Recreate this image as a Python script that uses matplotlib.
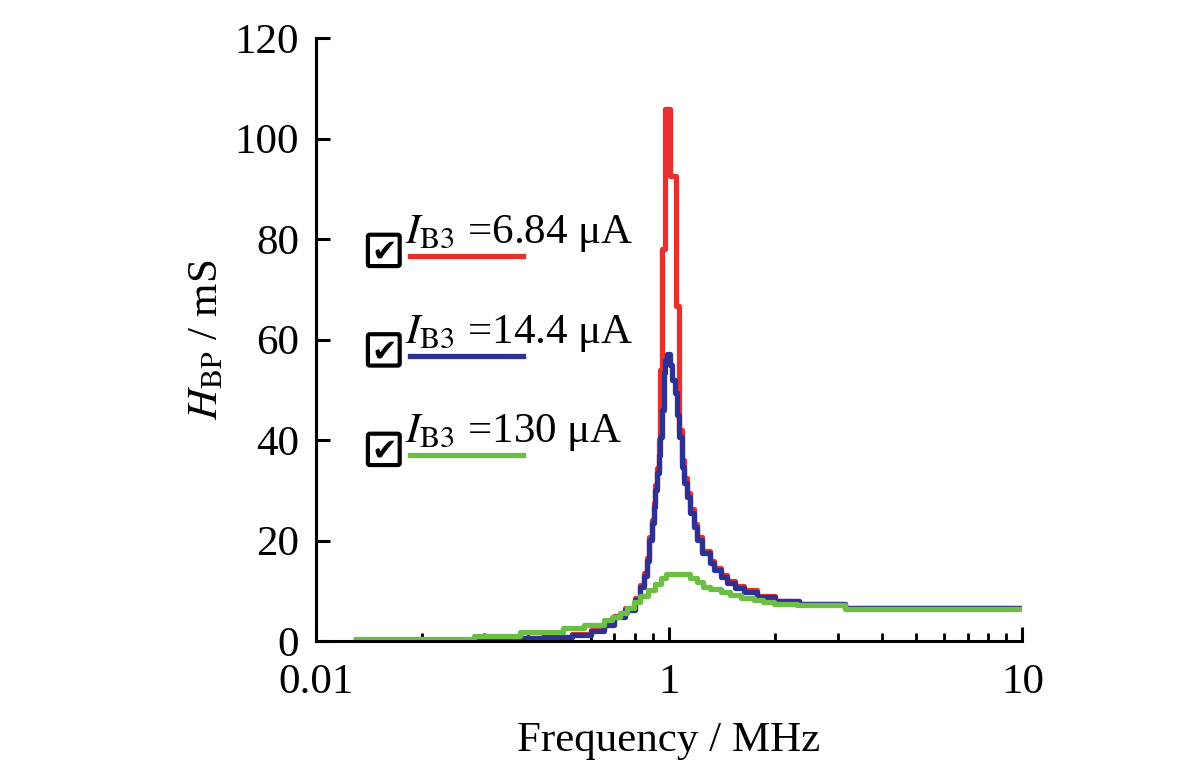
import matplotlib
matplotlib.use("Agg")
import matplotlib.pyplot as plt
from matplotlib.patches import FancyBboxPatch

plt.rcParams['font.family'] = ['Liberation Serif', 'DejaVu Sans']
plt.rcParams['mathtext.fontset'] = 'stix'

# frequency / MHz (step edges) and H_BP / mS
f_red = [0.13, 0.33, 0.44, 0.53, 0.60, 0.655, 0.70, 0.75, 0.80, 0.83, 0.85,
         0.867, 0.88, 0.895, 0.905, 0.913, 0.925, 0.937, 0.945, 0.955, 0.975,
         1.005, 1.046, 1.07, 1.088, 1.105, 1.124, 1.146, 1.177, 1.2, 1.239,
         1.306, 1.34, 1.40, 1.458, 1.54, 1.628, 1.773, 1.99, 2.34, 3.14, 10.0]
h_red = [0.3, 0.7, 0.9, 1.4, 2.2, 3.4, 5.0, 6.5, 8.6, 11.2, 13.5,
         16.5, 20.8, 24.2, 27.5, 31.0, 34.5, 40.0, 54.0, 78.0, 106.0,
         92.5, 66.6, 42.0, 36.0, 32.5, 29.5, 26.2, 23.4, 20.7, 18.0,
         15.9, 14.6, 13.2, 12.0, 10.9, 10.1, 9.0, 8.0, 7.4, 6.5, 6.5]

f_blue = [0.13, 0.33, 0.44, 0.53, 0.60, 0.655, 0.70, 0.75, 0.80, 0.83, 0.85,
          0.867, 0.88, 0.895, 0.905, 0.913, 0.925, 0.937, 0.945, 0.955, 0.965,
          0.975, 0.985, 1.005, 1.02, 1.04, 1.055, 1.067, 1.088, 1.105, 1.124,
          1.146, 1.177, 1.2, 1.239, 1.306, 1.34, 1.40, 1.458, 1.54, 1.628,
          1.773, 1.99, 2.34, 3.14, 10.0]
h_blue = [0.2, 0.6, 0.8, 1.2, 2.0, 3.2, 4.8, 6.2, 8.2, 10.8, 13.0,
          16.0, 20.1, 23.5, 26.7, 30.0, 33.5, 37.0, 40.7, 46.0, 53.4,
          56.0, 57.2, 55.0, 52.0, 49.4, 45.0, 40.7, 34.7, 31.5, 28.7,
          25.5, 22.7, 20.1, 17.5, 15.5, 14.2, 12.8, 11.6, 10.6, 9.8,
          8.8, 8.0, 7.4, 6.5, 6.5]

f_green = [0.13, 0.28, 0.38, 0.50, 0.575, 0.655, 0.69, 0.727, 0.76, 0.796,
           0.83, 0.87, 0.91, 0.95, 0.98, 1.15, 1.2, 1.25, 1.31, 1.4, 1.49,
           1.6, 1.74, 1.85, 1.98, 2.3, 3.14, 10.0]
h_green = [0.4, 1.0, 1.8, 2.6, 3.2, 4.2, 4.8, 5.6, 6.6, 7.8,
           9.0, 10.2, 11.4, 12.6, 13.3, 12.6, 11.8, 10.8, 10.3, 9.8, 9.2,
           8.6, 8.2, 7.8, 7.4, 7.2, 6.4, 6.4]

labels = ['6.84', '14.4', '130']
colors = ['#e8312f', '#2e3192', '#6dbe45']

fig = plt.figure(figsize=(12, 7.79), dpi=100)
ax = fig.add_axes([0.263, 0.177, 0.589, 0.774])

for f, h, c in zip([f_red, f_blue, f_green], [h_red, h_blue, h_green], colors):
    ax.plot(f, h, drawstyle='steps-post', color=c, lw=3.8)

ax.set_xscale('log')
ax.set_xlim(0.1, 10)
ax.set_ylim(0, 120)
ax.set_yticks(range(0, 121, 20))
ax.set_xticks([0.1, 1, 10])
ax.set_xticklabels(['0.01', '1', '10'])
ax.spines['top'].set_visible(False)
ax.spines['right'].set_visible(False)
for s in ['left', 'bottom']:
    ax.spines[s].set_linewidth(2.2)
ax.tick_params(which='major', direction='in', length=10, width=2.2, labelsize=31)
ax.tick_params(axis='x', which='major', pad=16)
ax.tick_params(axis='y', which='major', pad=12)
ax.tick_params(which='minor', direction='in', length=6, width=2)
ax.tick_params(axis='y', which='minor', left=False)

ax.set_xlabel('Frequency / MHz', fontsize=31, labelpad=14)
ax.set_ylabel(r'$H_{\mathrm{BP}}$ / mS', fontsize=31, labelpad=6)

# legend drawn like the screenshot: check box, label, line sample
for i, (lab, c) in enumerate(zip(labels, colors)):
    y0 = 0.648 - i * 0.165
    ax.add_patch(FancyBboxPatch((0.077, y0 - 0.023), 0.039, 0.046, transform=ax.transAxes,
                                boxstyle='round,pad=0.003', fill=False, lw=3, ec='black',
                                clip_on=False))
    ax.text(0.097, y0 - 0.003, '\u2714', transform=ax.transAxes, ha='center', va='center',
            fontsize=22, family='DejaVu Sans', clip_on=False)
    ax.text(0.126, y0 + 0.012, r'$I_{\mathrm{B3}}$' + ' =' + lab + ' \u03bcA',
            transform=ax.transAxes, ha='left', va='baseline', fontsize=31)
    ax.plot([0.133, 0.293], [y0 - 0.01, y0 - 0.01], transform=ax.transAxes,
            color=c, lw=3.8, clip_on=False)

fig.savefig('out.png', dpi=100)
